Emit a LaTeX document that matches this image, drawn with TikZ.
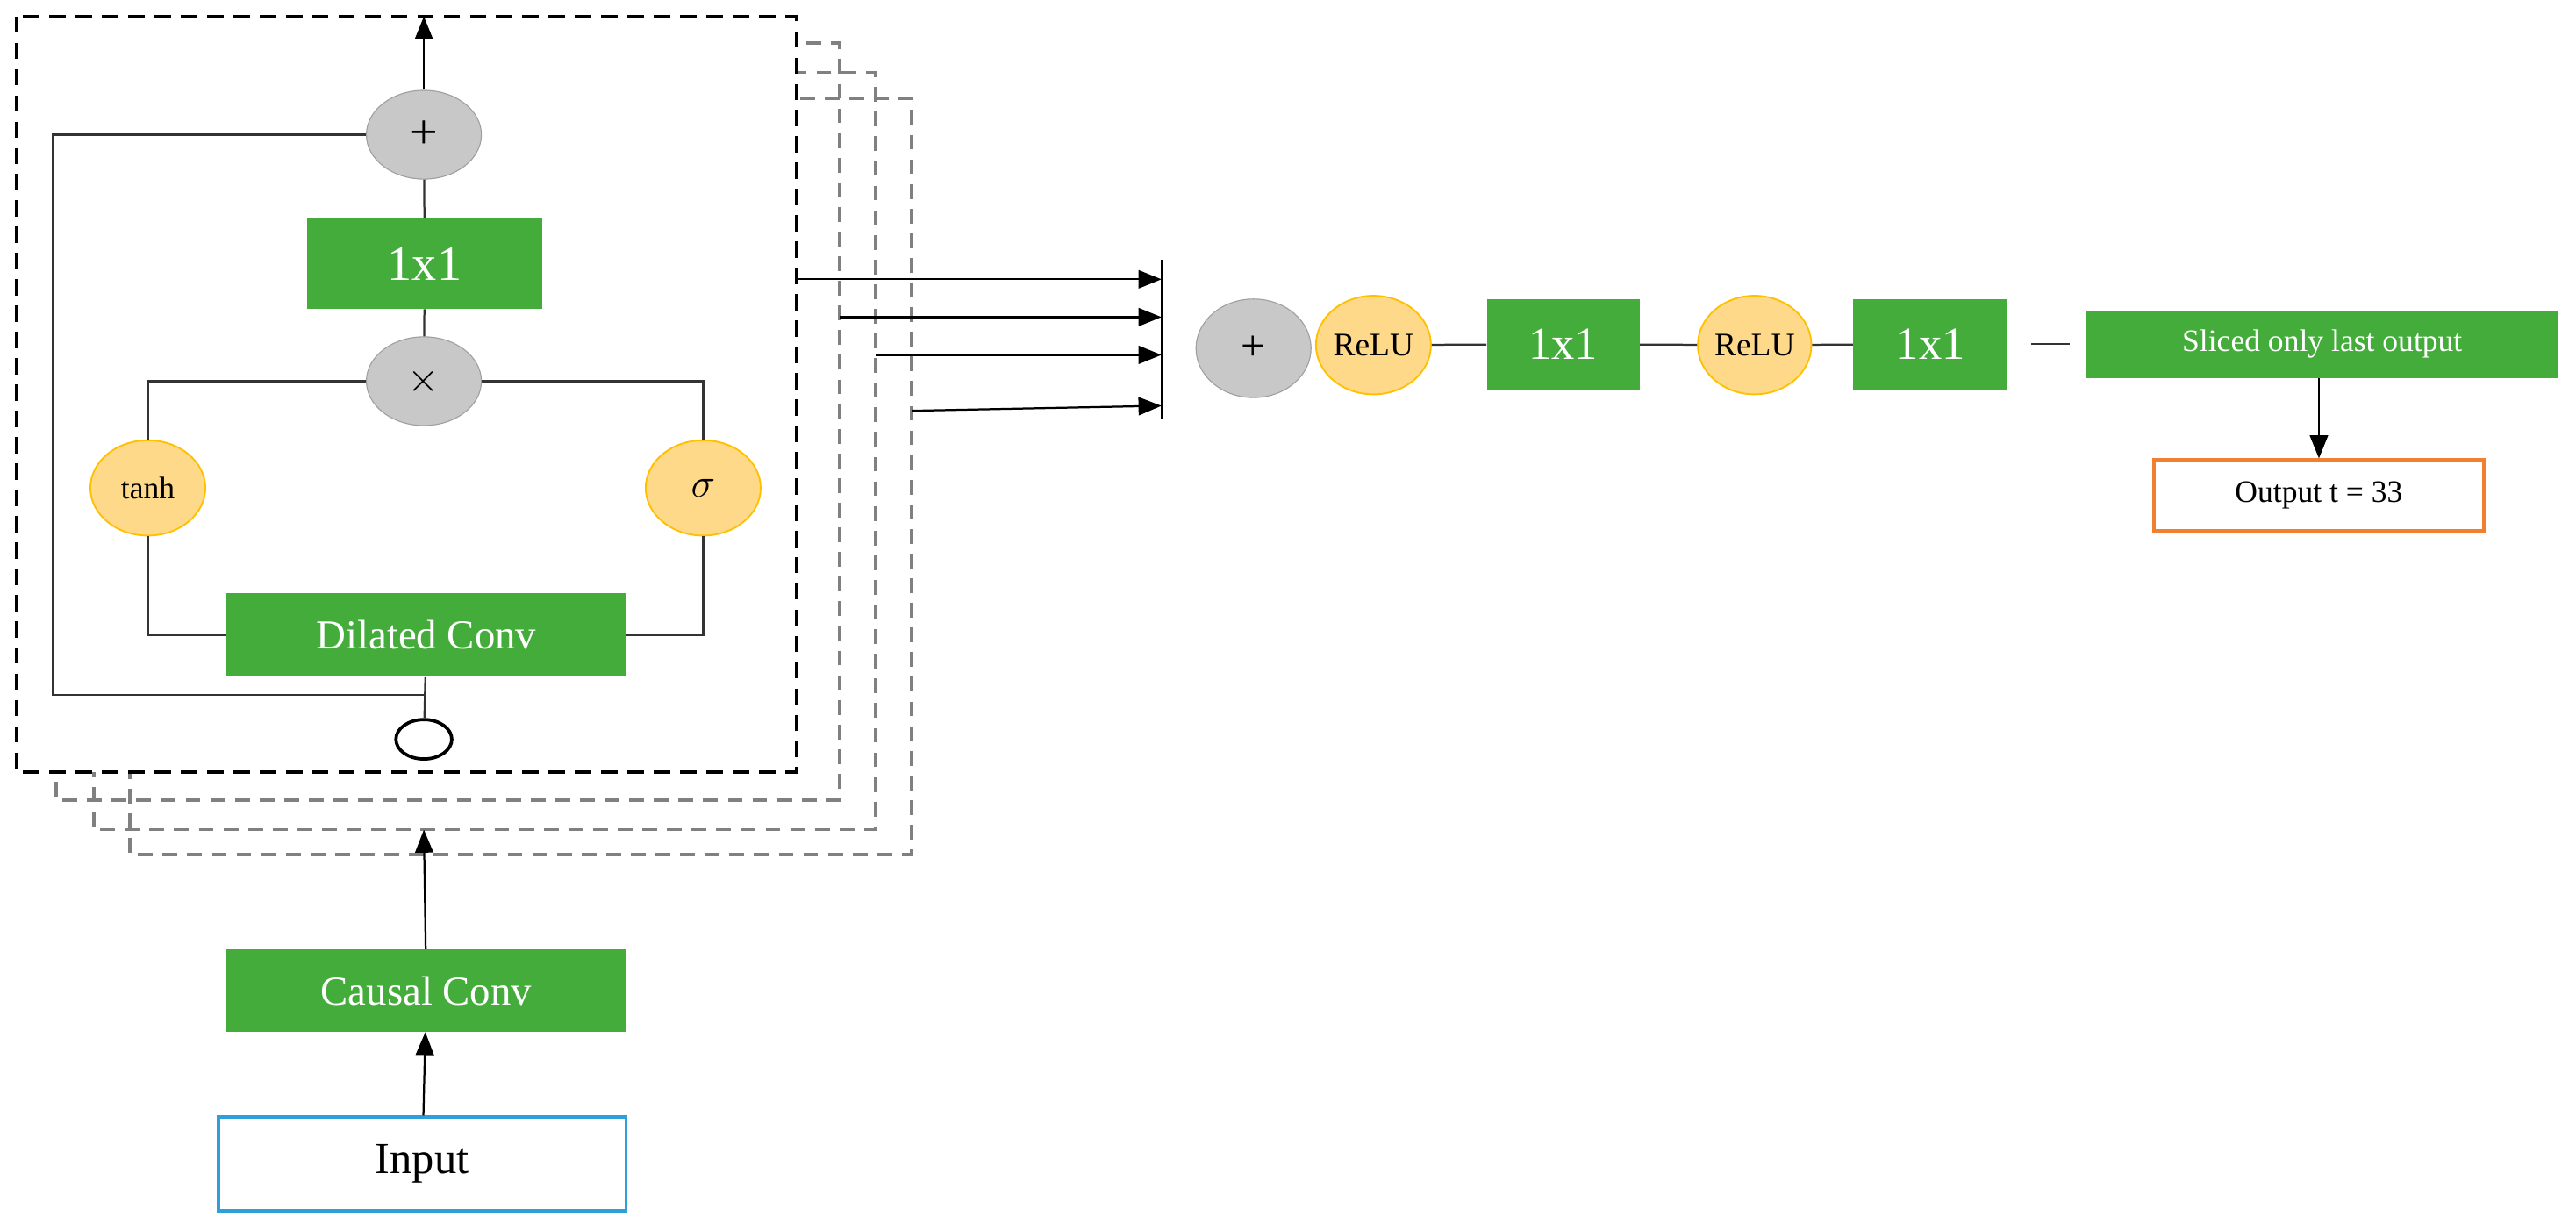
\documentclass[tikz,border=0pt]{standalone}
\usepackage{fontspec}
\setmainfont{Liberation Serif}
\usetikzlibrary{arrows.meta,shapes.geometric}
\definecolor{grn}{HTML}{43AC3A}
\definecolor{org}{HTML}{FFD98A}
\definecolor{orgb}{HTML}{FFC000}
\definecolor{gry}{HTML}{C8C8C8}
\definecolor{blu}{HTML}{2E9FD8}
\definecolor{oout}{HTML}{F08030}
\begin{document}
\begin{tikzpicture}[x=1pt,y=-1pt,
  box/.style={fill=grn,text=white,draw=none,inner sep=0pt},
  op/.style={ellipse,fill=gry,draw=gry!80!black,inner sep=0pt,line width=0.6pt},
  act/.style={ellipse,fill=org,draw=orgb,inner sep=0pt,line width=1pt},
  ln/.style={line width=1.2pt,draw=black!80},
  arr/.style={line width=1.2pt,-{Triangle[length=14pt,width=11pt]}},
  gd/.style={draw=gray,line width=2pt,dash pattern=on 9pt off 6pt},
]
\useasboundingbox (0,0) rectangle (1568,745);
% stacked layers
\draw[gd] (79,60) rectangle (555,520);
\draw[gd] (57,44) rectangle (533,505);
\draw[gd] (34,26) rectangle (511,487);
\draw[fill=white,line width=2.2pt,dash pattern=on 10pt off 6pt] (10,10) rectangle (485,470);
% inner nodes
\node[op,minimum width=70pt,minimum height=54pt,font=\fontsize{30}{30}\selectfont] (plus) at (258,82) {+};
\node[box,minimum width=143pt,minimum height=55pt,font=\fontsize{30}{30}\selectfont] (c1) at (258.5,160.5) {1x1};
\node[op,minimum width=70pt,minimum height=54pt,font=\fontsize{30}{30}\selectfont] (mul) at (258,232) {$\times$};
\node[act,minimum width=70pt,minimum height=58pt,font=\fontsize{19}{19}\selectfont] (tanh) at (90,297) {tanh};
\node[act,minimum width=70pt,minimum height=58pt,font=\fontsize{24}{24}\selectfont] (sig) at (428,297) {$\sigma$};
\node[box,minimum width=243pt,minimum height=51pt,font=\fontsize{25}{25}\selectfont] (dil) at (259.5,386.5) {Dilated Conv};
\node[ellipse,draw,line width=2pt,fill=white,minimum width=34pt,minimum height=24pt,inner sep=0pt] (in) at (258,450) {};
\coordinate (top) at (258,10);
\coordinate (j) at (258,423);
\draw[arr] (plus) -- (top);
\draw[ln] (c1) -- (plus);
\draw[ln] (mul) -- (c1);
\draw[ln] (mul.west) -| (tanh.north);
\draw[ln] (mul.east) -| (sig.north);
\draw[ln] (tanh.south) |- (dil.west);
\draw[ln] (sig.south) |- (dil.east);
\draw[ln] (in) -- (dil);
\draw[ln] (j) -- (32,423) |- (plus.west);
% below
\node[box,minimum width=243pt,minimum height=50pt,font=\fontsize{25}{25}\selectfont] (causal) at (259.5,603) {Causal Conv};
\node[draw=blu,line width=2pt,minimum width=248pt,minimum height=57pt,font=\fontsize{27}{27}\selectfont] (input) at (257,708.5) {Input};
\coordinate (entry) at (258,505);
\draw[arr] (input) -- (causal);
\draw[arr] (causal) -- (entry);
% skip outputs
\coordinate (bt) at (707,158);
\coordinate (bb) at (707,255);
\draw[line width=1.4pt] (bt) -- (bb);
\coordinate (s1) at (485,170); \coordinate (e1) at (707,170);
\coordinate (s2) at (511,193); \coordinate (e2) at (707,193);
\coordinate (s3) at (533,216); \coordinate (e3) at (707,216);
\coordinate (s4) at (555,250); \coordinate (e4) at (707,247);
\draw[arr] (s1) -- (e1);
\draw[arr] (s2) -- (e2);
\draw[arr] (s3) -- (e3);
\draw[arr] (s4) -- (e4);
% right chain
\node[op,minimum width=70pt,minimum height=60pt,font=\fontsize{26}{26}\selectfont] (p2) at (763,212) {+};
\node[act,minimum width=70pt,minimum height=60pt,font=\fontsize{20}{20}\selectfont] (r1) at (836,210) {ReLU};
\node[box,minimum width=93pt,minimum height=55pt,font=\fontsize{28}{28}\selectfont] (d1) at (951.5,209.5) {1x1};
\node[act,minimum width=68pt,minimum height=60pt,font=\fontsize{20}{20}\selectfont] (r2) at (1068,210) {ReLU};
\node[box,minimum width=94pt,minimum height=55pt,font=\fontsize{28}{28}\selectfont] (d2) at (1175,209.5) {1x1};
\node[box,minimum width=287pt,minimum height=41pt,font=\fontsize{19}{19}\selectfont] (sl) at (1413.5,209.5) {Sliced only last output};
\node[draw=oout,line width=2pt,minimum width=201pt,minimum height=43pt,font=\fontsize{19}{19}\selectfont] (out) at (1411.5,301.5) {Output t = 33};
\draw[ln] (r1) -- (d1);
\draw[ln] (d1) -- (r2);
\draw[ln] (r2) -- (d2);
\draw[ln,shorten >=10pt,shorten <=14pt] (d2) -- (sl);
\draw[arr] (sl.south -| out.north) -- (out.north);
\end{tikzpicture}
\end{document}
